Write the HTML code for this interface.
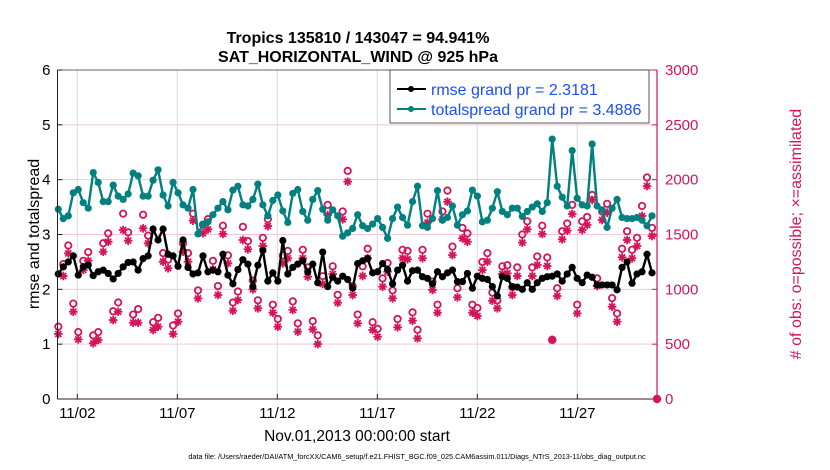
<!DOCTYPE html>
<html><head><meta charset="utf-8"><style>
html,body{margin:0;padding:0;background:#fff;}
svg{display:block;font-family:"Liberation Sans",Arial,sans-serif;}
</style></head><body>
<svg id="chart" width="830" height="470" viewBox="0 0 830 470" xmlns="http://www.w3.org/2000/svg">
<text x="358" y="43" text-anchor="middle" font-size="16" font-weight="bold">Tropics 135810 / 143047 = 94.941%</text>
<text x="358" y="62" text-anchor="middle" font-size="16" font-weight="bold">SAT_HORIZONTAL_WIND @ 925 hPa</text>
<g id="grid"></g>
<g id="marks"></g>
<g id="axes"></g>
<text transform="translate(39,234) rotate(-90)" text-anchor="middle" font-size="16">rmse and totalspread</text>
<text transform="translate(801,234) rotate(-90)" text-anchor="middle" font-size="16" fill="#d4145a"># of obs: o=possible; ×=assimilated</text>
<text x="357" y="441" text-anchor="middle" font-size="15.5">Nov.01,2013 00:00:00 start</text>
<text x="417" y="459" text-anchor="middle" font-size="7.3">data file: /Users/raeder/DAI/ATM_forcXX/CAM6_setup/f.e21.FHIST_BGC.f09_025.CAM6assim.011/Diags_NTrS_2013-11/obs_diag_output.nc</text>
<g>
<rect x="390" y="70" width="259" height="53" fill="#fff" stroke="#333" stroke-width="0.8"/>
<line x1="397" y1="89" x2="426" y2="89" stroke="#000" stroke-width="2"/>
<circle cx="411" cy="89" r="3" fill="#000"/>
<text x="431" y="95" font-size="16" fill="#1a4ff5">rmse grand pr = 2.3181</text>
<line x1="397" y1="109" x2="426" y2="109" stroke="#008080" stroke-width="2"/>
<circle cx="411" cy="109" r="3" fill="#008080"/>
<text x="431" y="115" font-size="16" fill="#1a4ff5">totalspread grand pr = 3.4886</text>
</g>
</svg>
<script>
const rmse=[2.28,2.41,2.50,2.61,2.26,2.41,2.44,2.25,2.32,2.35,2.29,2.19,2.29,2.41,2.49,2.50,2.35,2.56,2.61,3.10,2.90,3.10,2.64,2.61,2.42,2.90,2.40,2.28,2.30,2.61,2.32,
2.35,2.32,2.64,2.26,2.10,2.36,2.54,2.46,2.05,2.44,2.71,2.15,2.30,2.15,2.89,2.28,2.40,2.46,2.52,2.32,2.46,2.12,2.68,2.05,2.22,2.15,2.24,2.18,2.02,2.47,
2.52,2.56,2.30,2.32,2.47,2.36,2.10,2.35,2.44,2.15,2.34,2.35,2.23,2.20,2.10,2.32,2.23,2.30,2.35,2.14,2.14,2.29,2.02,2.24,2.20,2.18,2.05,1.88,2.23,2.20,
2.05,2.04,2.00,2.12,2.00,2.12,2.20,2.23,2.24,2.28,2.15,2.28,2.40,2.20,2.12,2.26,2.22,2.08,2.08,2.08,2.08,1.99,2.40,2.50,2.11,2.28,2.32,2.64,2.30];
const spread=[3.46,3.29,3.34,3.76,3.82,3.58,3.48,4.13,3.95,3.60,3.60,3.90,3.70,3.64,3.74,4.12,4.07,3.70,3.70,3.99,4.18,3.72,3.52,3.95,3.76,3.54,3.48,3.82,3.01,3.19,3.23,
3.36,3.48,3.60,3.45,3.81,3.88,3.54,3.52,3.64,3.92,3.54,3.34,3.62,3.72,3.43,3.22,3.75,3.82,3.42,3.26,3.64,3.80,3.46,3.26,3.45,3.34,2.97,3.03,3.11,3.36,
3.16,3.11,3.19,3.29,3.13,2.93,3.29,3.50,3.31,3.17,3.60,3.88,3.16,3.13,3.29,3.80,3.26,3.31,3.52,3.17,3.36,3.43,3.81,3.70,3.23,3.26,3.48,3.78,3.42,3.36,
3.48,3.48,3.33,3.42,3.50,3.56,3.42,3.58,4.74,3.88,3.68,3.52,4.53,3.66,3.54,3.52,4.65,3.52,3.45,3.13,3.48,3.64,3.31,3.29,3.29,3.31,3.26,3.16,3.34];
const nUsed=[593,1122,1328,796,544,1176,1261,508,538,1343,1434,720,796,1541,1444,696,696,1556,1420,629,659,1252,1192,593,705,1343,1252,1626,918,1511,
1547,1182,948,1505,1237,805,903,1450,1365,1000,827,1395,1577,787,659,1237,1283,812,614,1283,1115,635,501,1049,1678,1140,878,1638,1982,948,690,
1122,1283,629,568,1024,1161,918,654,1283,1274,714,553,1283,1608,994,787,1638,1799,1313,927,1465,1434,787,757,1176,1252,896,827,1140,1146,
948,1122,1426,1547,1122,1222,1505,1213,538,939,1456,1535,1687,781,1541,1587,1815,1030,1632,1699,842,705,1292,1450,1283,1395,1669,1942,1486,0];
const nPoss=[660,1230,1400,870,610,1260,1340,580,610,1420,1510,800,880,1690,1520,770,820,1680,1490,700,740,1330,1270,670,780,1420,1330,1690,990,1590,
1640,1260,1030,1580,1310,880,980,1570,1440,1080,900,1470,1640,860,730,1310,1350,890,690,1360,1200,710,580,1120,1770,1210,950,1710,2080,1030,770,
1210,1370,700,640,1100,1240,990,730,1360,1350,790,630,1360,1690,1070,860,1710,1900,1390,1010,1560,1510,860,830,1250,1330,970,900,1210,1220,
1020,1200,1500,1620,1200,1300,1580,1290,540,1010,1530,1600,1770,860,1620,1660,1860,1100,1710,1780,920,780,1370,1530,1360,1470,1760,2020,1560,0];
const leftTicks=[0,1,2,3,4,5,6];
const rightTicks=[0,500,1000,1500,2000,2500,3000];
const dateTicks=[1,6,11,16,21,26];
const dateLabels=["11/02","11/07","11/12","11/17","11/22","11/27"];

const NS="http://www.w3.org/2000/svg";
const L=57.5,R=657,T=70,B=399;
function xStep(k){return 58.3+k*(R-58.3)/120;}
function xDay(d){return 57.3+d*20;}
function yL(v){return B-(v/6)*(B-T);}
function yR(c){return B-(c/3000)*(B-T);}
function mk(tag,attrs,parent){const e=document.createElementNS(NS,tag);for(const k in attrs)e.setAttribute(k,attrs[k]);parent.appendChild(e);return e;}
const grid=document.getElementById('grid'),marks=document.getElementById('marks'),axes=document.getElementById('axes');

rightTicks.forEach((t,i)=>{if(i===0||i===rightTicks.length-1)return;
 const g=mk('line',{x1:L,x2:R,y1:yR(t),y2:yR(t),stroke:'#f3c7d6','stroke-width':1},grid);
 
 });
dateTicks.forEach(d=>{
 const g=mk('line',{x1:xDay(d),x2:xDay(d),y1:T,y2:B,stroke:'#d8d8d8','stroke-width':1},grid);
 
 });

function star(cx,cy,parent){
 const g=mk('g',{stroke:'#d4145a','stroke-width':1.8},parent);
 
 
 const s=4.3,d=3.0;
 mk('line',{x1:cx-s,x2:cx+s,y1:cy,y2:cy},g);
 mk('line',{x1:cx,x2:cx,y1:cy-s,y2:cy+s},g);
 mk('line',{x1:cx-d,x2:cx+d,y1:cy-d,y2:cy+d},g);
 mk('line',{x1:cx-d,x2:cx+d,y1:cy+d,y2:cy-d},g);
}
nPoss.forEach((c,k)=>{
 const e=mk('circle',{cx:xStep(k),cy:yR(c),r:3.2,fill:'none',stroke:'#d4145a','stroke-width':1.8},marks);
 
 });
nUsed.forEach((c,k)=>star(xStep(k),yR(c),marks));

function series(vals,color,name){
 const p=mk('polyline',{points:vals.map((v,k)=>xStep(k)+','+yL(v)).join(' '),fill:'none',stroke:color,'stroke-width':2.4,'stroke-linejoin':'round'},marks);
 
 
 vals.forEach((v,k)=>{
  const c=mk('circle',{cx:xStep(k),cy:yL(v),r:3.6,fill:color},marks);
  
  });
}
series(spread,'#008080','totalspread');
series(rmse,'#000000','rmse');

let a=mk('line',{x1:L,x2:L,y1:T,y2:B,stroke:'#222','stroke-width':1},axes);


a=mk('line',{x1:L,x2:R,y1:B,y2:B,stroke:'#3a1424','stroke-width':1},axes);


a=mk('line',{x1:L,x2:R,y1:T,y2:T,stroke:'#333','stroke-width':0.8},axes);


a=mk('line',{x1:R,x2:R,y1:T,y2:B,stroke:'#d4145a','stroke-width':1.2},axes);



leftTicks.forEach(t=>{
 mk('line',{x1:L,x2:L+5,y1:yL(t),y2:yL(t),stroke:'#222'},axes);
 const tx=mk('text',{x:L-7,y:yL(t)+5,'text-anchor':'end','font-size':15},axes);
 tx.textContent=t;
 
 });
rightTicks.forEach(t=>{
 mk('line',{x1:R-5,x2:R,y1:yR(t),y2:yR(t),stroke:'#d4145a'},axes);
 const tx=mk('text',{x:R+8,y:yR(t)+5,'font-size':15,fill:'#d4145a'},axes);
 tx.textContent=t;
 
 });
dateTicks.forEach((d,i)=>{
 mk('line',{x1:xDay(d),x2:xDay(d),y1:B,y2:B-5,stroke:'#222'},axes);
 const tx=mk('text',{x:xDay(d),y:B+19,'text-anchor':'middle','font-size':15},axes);
 tx.textContent=dateLabels[i];
 
 });
</script>
</body></html>
